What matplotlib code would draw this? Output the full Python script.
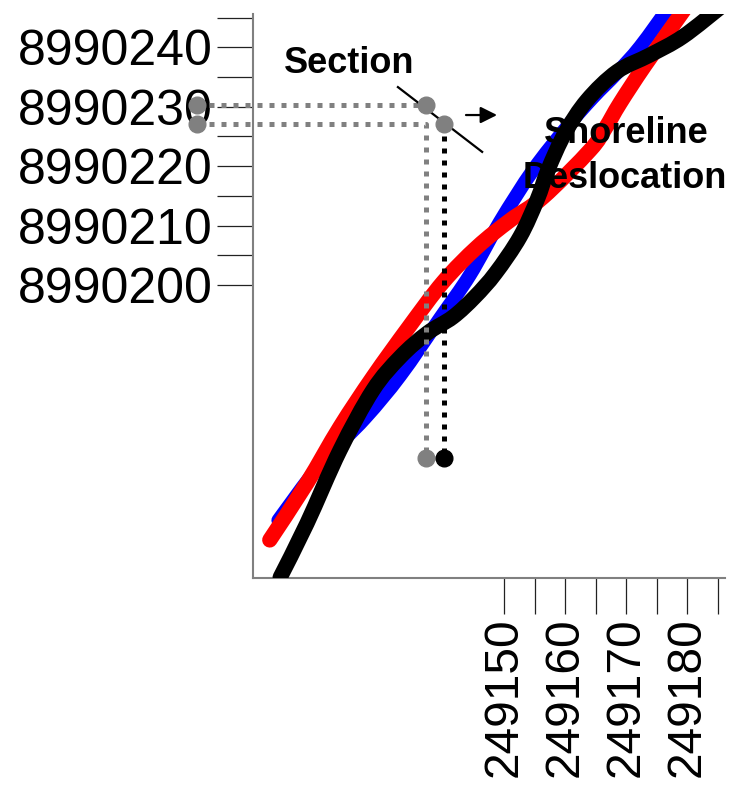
import matplotlib
matplotlib.use("Agg")
import matplotlib.pyplot as plt
from matplotlib.path import Path
from matplotlib.patches import PathPatch

plt.rcParams["font.family"] = ["Liberation Sans", "DejaVu Sans"]

# shoreline positions (easting, northing)
red_x = [249111.6, 249117.7, 249123.1, 249128.5, 249134.3, 249140.0, 249145.6, 249151.0,
         249156.4, 249164.1, 249166.6, 249169.0, 249173.1, 249179.7]
red_y = [8990157.1, 8990166.7, 8990176.1, 8990184.5, 8990192.8, 8990200.5, 8990206.4, 8990210.9,
         8990214.8, 8990222.7, 8990226.4, 8990230.6, 8990237.0, 8990246.6]

blue_x = [249113.0, 249119.8, 249127.2, 249133.0, 249139.5, 249144.4, 249149.3, 249154.8,
          249160.3, 249164.6, 249168.5, 249172.3, 249177.2]
blue_y = [8990160.4, 8990169.7, 8990177.6, 8990184.8, 8990194.4, 8990201.7, 8990210.6, 8990219.4,
          8990226.6, 8990231.6, 8990235.7, 8990240.1, 8990247.0]

black_x = [249113.3, 249117.7, 249123.1, 249128.5, 249133.0, 249137.4, 249141.6, 249145.2, 249148.6,
           249152.6, 249155.4, 249157.2, 249160.0, 249163.6, 249168.5, 249173.9, 249179.3, 249185.9]
black_y = [8990150.8, 8990159.9, 8990172.2, 8990182.3, 8990187.9, 8990191.9, 8990194.6, 8990198.0,
           8990202.0, 8990208.1, 8990214.3, 8990219.4, 8990225.6, 8990231.1, 8990235.9, 8990238.7,
           8990241.8, 8990247.1]

# section crossing points
sec_x_left = 249099.7
sec_x_old = 249137.2
sec_x_new = 249140.2
sec_y_old = 8990230.3
sec_y_new = 8990227.1
sec_y_base = 8990170.9
sec_line_x = [249132.6, 249146.4]
sec_line_y = [8990233.3, 8990222.4]
arrow_x = [249143.3, 249149.3]
arrow_y = 8990228.6

x_major = [249150, 249160, 249170, 249180]
x_minor = [249155, 249165, 249175, 249185]
y_major = [8990200, 8990210, 8990220, 8990230, 8990240]
y_minor = [8990205, 8990215, 8990225, 8990235, 8990245]


def smooth_line(ax, xs, ys, **kw):
    # smoothed line through the points (Catmull-Rom as bezier segments)
    pts = list(zip(xs, ys))
    verts = [pts[0]]
    codes = [Path.MOVETO]
    n = len(pts)
    for i in range(n - 1):
        p0 = pts[max(i - 1, 0)]
        p1 = pts[i]
        p2 = pts[i + 1]
        p3 = pts[min(i + 2, n - 1)]
        c1 = (p1[0] + (p2[0] - p0[0]) / 6, p1[1] + (p2[1] - p0[1]) / 6)
        c2 = (p2[0] - (p3[0] - p1[0]) / 6, p2[1] - (p3[1] - p1[1]) / 6)
        verts += [c1, c2, p2]
        codes += [Path.CURVE4] * 3
    patch = PathPatch(Path(verts, codes), fill=False, capstyle="round", joinstyle="round", **kw)
    ax.add_patch(patch)


fig = plt.figure(figsize=(7.35, 7.85), dpi=100)
ax = fig.add_axes([253 / 735, 1 - 578 / 785, (725 - 253) / 735, (578 - 14) / 785])
ax.set_xlim(249108.85, 249186.2)
ax.set_ylim(8990150.7, 8990245.6)

smooth_line(ax, blue_x, blue_y, edgecolor="#0000ff", lw=10, zorder=2)
smooth_line(ax, red_x, red_y, edgecolor="#ff0000", lw=11, zorder=3)
smooth_line(ax, black_x, black_y, edgecolor="black", lw=11, zorder=4)

# dotted guide lines for the section
dot = dict(lw=3.6, linestyle=(0, (1, 1.4)), dash_capstyle="butt", clip_on=False, zorder=5)
ax.plot([sec_x_left, sec_x_old], [sec_y_old, sec_y_old], color="#808080", **dot)
ax.plot([sec_x_left, sec_x_old, sec_x_old], [sec_y_new, sec_y_new, sec_y_base], color="#808080", **dot)
ax.plot([sec_x_new, sec_x_new], [sec_y_new, sec_y_base], color="black", **dot)

mk = dict(ms=12, clip_on=False, zorder=7, linestyle="none")
ax.plot([sec_x_left, sec_x_left, sec_x_old, sec_x_new, sec_x_old],
        [sec_y_old, sec_y_new, sec_y_old, sec_y_new, sec_y_base], "o", color="#808080",
        mec="#808080", **mk)
ax.plot([sec_x_new], [sec_y_base], "o", color="black", **mk)

ax.plot(sec_line_x, sec_line_y, color="black", lw=1.6, zorder=6)
ax.annotate("", xy=(arrow_x[1], arrow_y), xytext=(arrow_x[0], arrow_y),
            arrowprops=dict(arrowstyle="-|>", color="black", lw=1.6, mutation_scale=25))

ax.text(249124.6, 8990235.7, "Section", ha="center", va="baseline",
        fontsize=26, fontweight="bold", zorder=8)
ax.text(249170.0, 8990223.9, "Shoreline", ha="center", va="baseline",
        fontsize=26, fontweight="bold", zorder=8)
ax.text(249169.8, 8990216.3, "Deslocation", ha="center", va="baseline",
        fontsize=26, fontweight="bold", zorder=8)

for s in ["top", "right"]:
    ax.spines[s].set_visible(False)
for s in ["left", "bottom"]:
    ax.spines[s].set_color("#808080")
    ax.spines[s].set_linewidth(1.5)

ax.set_xticks(x_major, labels=[str(v) for v in x_major], rotation=90)
ax.set_xticks(x_minor, minor=True)
ax.set_yticks(y_major, labels=[str(v) for v in y_major])
ax.set_yticks(y_minor, minor=True)
ax.tick_params(which="both", length=26, width=0.9, color="#222222", pad=3)
ax.tick_params(axis="y", labelsize=36)
ax.tick_params(axis="x", which="both", labelsize=34.5, pad=2)

fig.savefig("out.png", dpi=100)
